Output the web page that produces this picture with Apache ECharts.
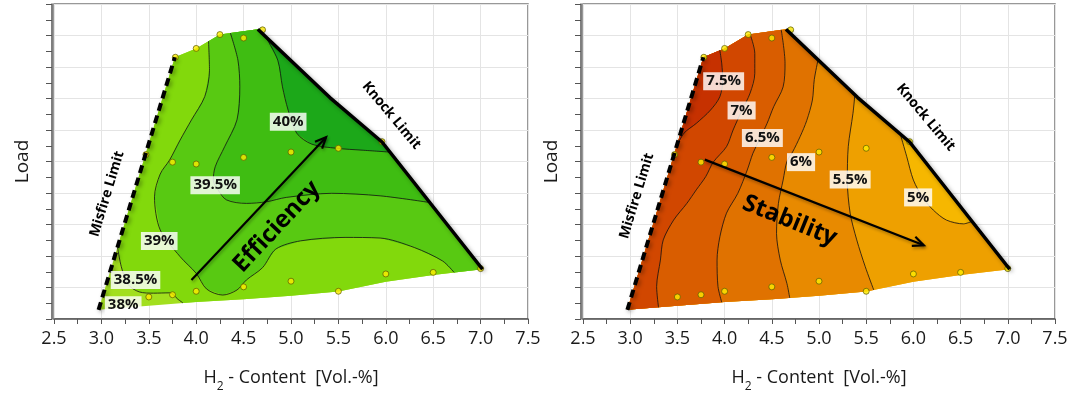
<!DOCTYPE html>
<html>
<head>
<meta charset="utf-8">
<title>Efficiency / Stability map</title>
<script src="https://cdn.jsdelivr.net/npm/echarts@6/dist/echarts.min.js"></script>
<style>
  html, body { margin: 0; padding: 0; background: #fff; }
  #chart { width: 1087px; height: 399px; }
</style>
</head>
<body>
<div id="chart"></div>
<script>
// operating map boundary (H2 content, load)
var misfireLimit = [[2.97, 0.29], [3.775, 8.31]];
var topEdge = [[4.0, 8.59], [4.25, 9.03]];
var knockLimit = [[4.65, 9.2], [5.41, 7.03], [5.96, 5.62], [7.02, 1.58]];
var bottomEdge = [[6.5, 1.40], [6.0, 1.18], [5.5, 0.87], [5.0, 0.74], [4.5, 0.63], [4.0, 0.54], [3.5, 0.42]];

// measured operating points
var measuredPoints = [
  [3.47, 5.22], [3.75, 4.98], [4.0, 4.92], [3.78, 8.31], [4.0, 8.59], [4.25, 9.03], [4.5, 8.92], [4.7, 9.18],
  [4.5, 5.13], [5.0, 5.3], [5.5, 5.42], [5.96, 5.63], [7.0, 1.6], [6.5, 1.48], [6.0, 1.43],
  [5.0, 1.2], [5.5, 0.88], [4.5, 1.02], [4.0, 0.88], [3.75, 0.77], [3.5, 0.7]
];

// efficiency contour lines
var eff385 = [[3.17, 2.28], [3.21, 1.66], [3.28, 1.1], [3.4, 0.86], [3.55, 0.82], [3.72, 0.83], [3.81, 0.62], [3.86, 0.51]];
var eff39 = [[4.13, 8.82], [4.14, 7.9], [4.09, 7.06], [3.95, 6.32], [3.83, 5.68], [3.72, 5.05], [3.62, 4.6], [3.56, 3.88],
  [3.62, 2.83], [3.83, 1.98], [4.0, 1.45], [4.11, 0.95], [4.28, 0.76], [4.43, 0.92], [4.53, 1.24], [4.70, 1.63],
  [4.84, 2.22], [5.10, 2.48], [5.57, 2.59], [5.94, 2.57], [6.30, 2.27], [6.60, 1.84], [6.72, 1.48]];
var eff395 = [[4.36, 9.08], [4.44, 8.22], [4.46, 7.37], [4.43, 6.32], [4.30, 5.47], [4.20, 4.83], [4.18, 4.4], [4.23, 4.10],
  [4.32, 3.78], [4.53, 3.67], [4.74, 3.72], [4.95, 3.86], [5.43, 3.99], [5.94, 3.91], [6.46, 3.7]];
var eff40 = [[4.73, 8.97], [4.86, 8.22], [4.91, 7.37], [4.97, 6.63], [5.06, 5.9], [5.22, 5.55], [5.48, 5.42], [5.75, 5.36], [6.04, 5.3]];

// stability (COV) contour lines
var stab75 = [[3.95, 8.53], [3.97, 8.1], [3.98, 7.6], [3.95, 7.06], [3.85, 6.63], [3.70, 6.21], [3.57, 5.9], [3.49, 5.47]];
var stab7 = [[4.27, 9.04], [4.32, 8.43], [4.32, 7.8], [4.27, 7.17], [4.18, 6.6], [4.09, 6.0], [4.02, 5.47], [3.88, 4.98],
  [3.80, 4.52], [3.70, 4.10], [3.60, 3.67], [3.46, 3.14], [3.35, 2.51], [3.32, 1.87], [3.28, 1.03], [3.30, 0.37]];
var stab65 = [[4.60, 9.18], [4.64, 8.12], [4.62, 7.37], [4.52, 6.74], [4.45, 6.21], [4.37, 5.7], [4.30, 5.26], [4.24, 4.73],
  [4.14, 3.99], [4.02, 3.36], [3.95, 2.61], [3.92, 1.87], [3.93, 1.03], [3.97, 0.53]];
var stab6 = [[4.99, 8.23], [4.95, 7.6], [4.93, 6.95], [4.87, 6.3], [4.80, 5.79], [4.72, 5.3], [4.66, 5.0], [4.62, 4.41],
  [4.57, 3.67], [4.55, 2.72], [4.59, 1.87], [4.66, 1.13], [4.69, 0.67]];
var stab55 = [[5.38, 7.12], [5.36, 6.53], [5.31, 5.47], [5.30, 4.4], [5.33, 3.36], [5.40, 2.51], [5.49, 1.66], [5.58, 0.92]];
var stab5 = [[5.86, 5.88], [5.93, 5.15], [6.0, 4.41], [6.1, 3.85], [6.21, 3.46], [6.35, 3.14], [6.53, 3.02], [6.62, 3.10]];

// contour labels [x, y, text]
var effLabels = [[4.97, 6.26, '40%'], [4.20, 4.25, '39.5%'], [3.61, 2.48, '39%'], [3.36, 1.24, '38.5%'], [3.23, 0.44, '38%']];
var stabLabels = [[3.99, 7.55, '7.5%'], [4.18, 6.62, '7%'], [4.40, 5.75, '6.5%'], [4.81, 4.98, '6%'], [5.33, 4.43, '5.5%'], [6.05, 3.86, '5%']];

var effArrow = [[3.95, 1.24], [5.37, 5.77]];
var stabArrow = [[3.79, 5.06], [6.11, 2.34]];

// annotations [x, y, text, angle in degrees]
var effNotes = [[3.06, 3.97, 'Misfire Limit', 73], [6.06, 6.46, 'Knock Limit', -50], [4.85, 2.93, 'Efficiency', 47]];
var stabNotes = [[3.07, 3.91, 'Misfire Limit', 73], [6.13, 6.40, 'Knock Limit', -50], [4.69, 3.12, 'Stability', -22]];

var xTicks = [2.5, 3.0, 3.5, 4.0, 4.5, 5.0, 5.5, 6.0, 6.5, 7.0, 7.5];

var greens = ['#a2df1e', '#82d90c', '#58c912', '#3fbd12', '#1ca819'];
var oranges = ['#f6b700', '#eea000', '#e88a00', '#e07200', '#d95d00', '#d14700', '#c63100'];

var ring = misfireLimit.concat(topEdge, knockLimit, bottomEdge);

function segDist(p, a, b) {
  var dx = b[0] - a[0], dy = b[1] - a[1];
  var t = ((p[0] - a[0]) * dx + (p[1] - a[1]) * dy) / (dx * dx + dy * dy);
  t = Math.max(0, Math.min(1, t));
  var ex = a[0] + t * dx - p[0], ey = a[1] + t * dy - p[1];
  return ex * ex + ey * ey;
}
function edgeIndex(p) {
  var best = 0, bd = Infinity;
  for (var i = 0; i < ring.length; i++) {
    var d = segDist(p, ring[i], ring[(i + 1) % ring.length]);
    if (d < bd) { bd = d; best = i; }
  }
  return best;
}
// closes a contour line with the boundary, walking forward or backward round the ring
function region(line, forward) {
  var n = ring.length;
  var iE = edgeIndex(line[line.length - 1]);
  var iS = edgeIndex(line[0]);
  var pts = line.slice();
  var k;
  if (forward) {
    k = (iE + 1) % n;
    while (true) { pts.push(ring[k]); if (k === iS) break; k = (k + 1) % n; }
  } else {
    k = iE;
    while (true) { pts.push(ring[k]); if (k === (iS + 1) % n) break; k = (k - 1 + n) % n; }
  }
  return pts;
}

var effLayers = [ring, region(eff385, false), region(eff39, false), region(eff395, false), region(eff40, false)];
var stabLayers = [ring, region(stab5, true), region(stab55, true), region(stab6, true), region(stab65, true), region(stab7, true), region(stab75, true)];

var font = '"Open Sans", "Noto Sans", sans-serif';

function makeX(g) {
  return {
    gridIndex: g, type: 'value', min: 2.5, max: 7.5, interval: 0.5, offset: 2,
    axisLine: { show: true, lineStyle: { color: '#555', width: 1.5 } },
    axisTick: { show: true, length: 5, lineStyle: { color: '#555' } },
    minorTick: { show: true, splitNumber: 2, length: 5, lineStyle: { color: '#555' } },
    splitLine: { show: true, lineStyle: { color: '#e4e4e4' } },
    axisLabel: {
      color: '#1a1a1a', fontSize: 18, fontFamily: font, margin: 9,
      formatter: function (v) { return xTicks.indexOf(v) >= 0 ? v.toFixed(1) : ''; }
    },
    name: 'H{sub|2} - Content  [Vol.-%]', nameLocation: 'middle', nameGap: 42,
    nameTextStyle: {
      color: '#1a1a1a', fontSize: 18, fontFamily: font,
      rich: { sub: { fontSize: 12, fontFamily: font, color: '#1a1a1a', verticalAlign: 'bottom', lineHeight: 30 } }
    }
  };
}
function makeY(g) {
  return {
    gridIndex: g, type: 'value', min: 0, max: 10, interval: 1, offset: 2,
    axisLine: { show: true, lineStyle: { color: '#555', width: 1.5 } },
    axisTick: { show: true, length: 6, lineStyle: { color: '#555' } },
    minorTick: { show: true, splitNumber: 2, length: 6, lineStyle: { color: '#555' } },
    splitLine: { show: true, lineStyle: { color: '#e4e4e4' } },
    axisLabel: { show: false },
    name: 'Load', nameLocation: 'middle', nameRotate: 90, nameGap: 20,
    nameTextStyle: { color: '#1a1a1a', fontSize: 19, fontFamily: font }
  };
}

function fillSeries(g, layers, colors) {
  return {
    type: 'custom', xAxisIndex: g, yAxisIndex: g, z: 1, silent: true,
    data: layers.map(function (l, i) { return [i, 0]; }),
    renderItem: function (params, api) {
      var pts = layers[params.dataIndex].map(function (p) { return api.coord(p); });
      return { type: 'polygon', shape: { points: pts }, style: { fill: colors[params.dataIndex] } };
    }
  };
}
function contourSeries(g, line) {
  return {
    type: 'line', xAxisIndex: g, yAxisIndex: g, z: 2, silent: true,
    data: line, showSymbol: false, symbol: 'none', smooth: 0.3,
    lineStyle: { color: '#111', width: 0.8 }
  };
}
function limitSeries(g, line, dashed) {
  return {
    type: 'line', xAxisIndex: g, yAxisIndex: g, z: 4, silent: true,
    data: line, showSymbol: false, symbol: 'none',
    lineStyle: {
      color: '#000', width: dashed ? 4 : 3.5, type: dashed ? [8, 5] : 'solid', cap: 'butt',
      shadowColor: 'rgba(0,0,0,0.35)', shadowBlur: 4, shadowOffsetX: 2, shadowOffsetY: 2
    }
  };
}
function pointSeries(g) {
  return {
    type: 'scatter', xAxisIndex: g, yAxisIndex: g, z: 3, silent: true,
    data: measuredPoints, symbolSize: 6,
    itemStyle: { color: '#ffec00', borderColor: '#5c5c00', borderWidth: 0.9 }
  };
}
function arrowSeries(g, arrow) {
  return {
    type: 'custom', xAxisIndex: g, yAxisIndex: g, z: 5, silent: true,
    data: [[arrow[0][0], arrow[0][1]]],
    renderItem: function (params, api) {
      var a = api.coord(arrow[0]), b = api.coord(arrow[1]);
      var ang = Math.atan2(b[1] - a[1], b[0] - a[0]);
      var L = 12, s = 0.42;
      var style = { stroke: '#000', lineWidth: 2.2, fill: null,
        shadowColor: 'rgba(0,0,0,0.3)', shadowBlur: 3, shadowOffsetX: 1, shadowOffsetY: 2 };
      return {
        type: 'group', children: [
          { type: 'line', shape: { x1: a[0], y1: a[1], x2: b[0], y2: b[1] }, style: style },
          { type: 'polyline', shape: { points: [
            [b[0] - L * Math.cos(ang - s), b[1] - L * Math.sin(ang - s)], b,
            [b[0] - L * Math.cos(ang + s), b[1] - L * Math.sin(ang + s)]] }, style: style }
        ]
      };
    }
  };
}
function labelSeries(g, labels) {
  return {
    type: 'custom', xAxisIndex: g, yAxisIndex: g, z: 6, silent: true,
    data: labels.map(function (l) { return [l[0], l[1]]; }),
    renderItem: function (params, api) {
      var p = api.coord([api.value(0), api.value(1)]);
      return {
        type: 'text', x: p[0], y: p[1],
        style: {
          text: labels[params.dataIndex][2], fill: '#111',
          font: 'bold 15px ' + font, align: 'center', verticalAlign: 'middle',
          backgroundColor: 'rgba(255,255,255,0.82)', padding: [2, 3, 1, 3]
        }
      };
    }
  };
}
function noteSeries(g, notes) {
  return {
    type: 'custom', xAxisIndex: g, yAxisIndex: g, z: 6, silent: true,
    data: notes.map(function (l) { return [l[0], l[1]]; }),
    renderItem: function (params, api) {
      var p = api.coord([api.value(0), api.value(1)]);
      var n = notes[params.dataIndex];
      var big = n[2] === 'Efficiency' || n[2] === 'Stability';
      return {
        type: 'text', x: p[0], y: p[1], rotation: n[3] * Math.PI / 180,
        style: {
          text: n[2], fill: '#000', font: 'bold ' + (big ? 24 : 14) + 'px ' + font,
          align: 'center', verticalAlign: 'middle'
        }
      };
    }
  };
}

var series = [
  fillSeries(0, effLayers, greens),
  contourSeries(0, eff385), contourSeries(0, eff39), contourSeries(0, eff395), contourSeries(0, eff40),
  pointSeries(0),
  limitSeries(0, misfireLimit, true), limitSeries(0, knockLimit, false),
  arrowSeries(0, effArrow), labelSeries(0, effLabels), noteSeries(0, effNotes),

  fillSeries(1, stabLayers, oranges),
  contourSeries(1, stab75), contourSeries(1, stab7), contourSeries(1, stab65),
  contourSeries(1, stab6), contourSeries(1, stab55), contourSeries(1, stab5),
  pointSeries(1),
  limitSeries(1, misfireLimit, true), limitSeries(1, knockLimit, false),
  arrowSeries(1, stabArrow), labelSeries(1, stabLabels), noteSeries(1, stabNotes)
];

var chart = echarts.init(document.getElementById('chart'), null, { renderer: 'canvas' });
chart.setOption({
  animation: false,
  backgroundColor: '#fff',
  grid: [
    { left: 54, top: 4, width: 474, height: 315, show: true, borderColor: '#777', borderWidth: 1.5, backgroundColor: '#fff' },
    { left: 583, top: 4, width: 472, height: 315, show: true, borderColor: '#777', borderWidth: 1.5, backgroundColor: '#fff' }
  ],
  xAxis: [makeX(0), makeX(1)],
  yAxis: [makeY(0), makeY(1)],
  series: series
});
</script>
</body>
</html>
